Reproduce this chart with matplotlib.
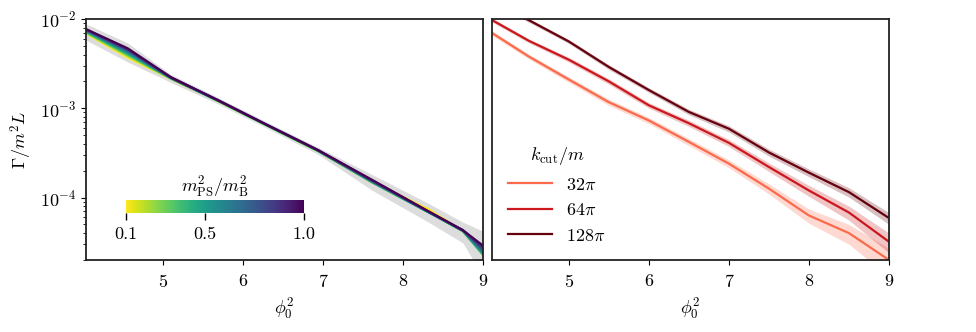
import numpy as np
import matplotlib
matplotlib.use("Agg")
import matplotlib.pyplot as plt
from matplotlib import cm, colors

plt.rcParams.update({
    "font.family": "serif",
    "font.serif": ["cmr10"],
    "mathtext.fontset": "cm",
    "axes.unicode_minus": False,
    "axes.formatter.use_mathtext": True,
    "font.size": 13,
})

# ---------------- left panel data ----------------
x_left = [4.04, 4.56, 5.1, 5.69, 6.3, 6.94, 7.62, 8.32, 8.75, 9.0]
ratios = [0.1, 0.2, 0.3, 0.4, 0.5, 0.6, 0.7, 0.8, 0.9, 1.0]
rate_r01 = [6.9e-3, 3.70e-3, 2.14e-3, 1.21e-3, 6.45e-4, 3.32e-4, 1.48e-4, 7.4e-5, 4.2e-5, 2.4e-5]
rate_r02 = [7.0e-3, 3.85e-3, 2.15e-3, 1.21e-3, 6.45e-4, 3.32e-4, 1.47e-4, 6.9e-5, 4.2e-5, 2.3e-5]
rate_r03 = [7.1e-3, 3.95e-3, 2.16e-3, 1.21e-3, 6.46e-4, 3.33e-4, 1.47e-4, 6.85e-5, 4.2e-5, 2.3e-5]
rate_r04 = [7.2e-3, 4.05e-3, 2.17e-3, 1.22e-3, 6.47e-4, 3.34e-4, 1.48e-4, 6.85e-5, 4.2e-5, 2.3e-5]
rate_r05 = [7.3e-3, 4.15e-3, 2.18e-3, 1.22e-3, 6.48e-4, 3.35e-4, 1.49e-4, 6.85e-5, 4.25e-5, 2.35e-5]
rate_r06 = [7.4e-3, 4.30e-3, 2.19e-3, 1.22e-3, 6.49e-4, 3.36e-4, 1.51e-4, 6.9e-5, 4.25e-5, 2.45e-5]
rate_r07 = [7.5e-3, 4.40e-3, 2.20e-3, 1.22e-3, 6.50e-4, 3.37e-4, 1.52e-4, 6.9e-5, 4.3e-5, 2.55e-5]
rate_r08 = [7.6e-3, 4.50e-3, 2.21e-3, 1.23e-3, 6.51e-4, 3.38e-4, 1.53e-4, 6.95e-5, 4.3e-5, 2.65e-5]
rate_r09 = [7.65e-3, 4.60e-3, 2.22e-3, 1.23e-3, 6.52e-4, 3.39e-4, 1.55e-4, 7.0e-5, 4.3e-5, 2.78e-5]
rate_r10 = [7.7e-3, 4.70e-3, 2.23e-3, 1.23e-3, 6.53e-4, 3.40e-4, 1.57e-4, 7.0e-5, 4.3e-5, 2.9e-5]
band_left_lo = [5.8e-3, 3.3e-3, 1.95e-3, 1.12e-3, 6.0e-4, 3.05e-4, 1.2e-4, 5.3e-5, 3.1e-5, 1.3e-5]
band_left_hi = [8.8e-3, 5.4e-3, 2.40e-3, 1.32e-3, 7.0e-4, 3.65e-4, 1.8e-4, 8.6e-5, 5.3e-5, 4.2e-5]

# ---------------- right panel data ----------------
x_right = [4.0, 4.5, 5.0, 5.5, 6.0, 6.5, 7.0, 7.5, 8.0, 8.5, 9.0]
kcut_labels = [r"$32\pi$", r"$64\pi$", r"$128\pi$"]
rate_32 = [7.35e-3, 3.8e-3, 2.1e-3, 1.17e-3, 7.3e-4, 4.2e-4, 2.4e-4, 1.26e-4, 6.3e-5, 4.0e-5, 2.0e-5]
rate_64 = [1.02e-2, 5.7e-3, 3.5e-3, 2.0e-3, 1.08e-3, 6.8e-4, 4.1e-4, 2.2e-4, 1.2e-4, 6.8e-5, 3.2e-5]
rate_128 = [1.6e-2, 9.7e-3, 5.6e-3, 2.9e-3, 1.6e-3, 9.1e-4, 5.9e-4, 3.2e-4, 1.9e-4, 1.15e-4, 5.9e-5]
rel_err_32 = [0.06, 0.06, 0.07, 0.08, 0.08, 0.09, 0.10, 0.13, 0.18, 0.25, 0.35]
rel_err_64 = [0.05, 0.05, 0.06, 0.07, 0.07, 0.08, 0.09, 0.11, 0.14, 0.18, 0.25]
rel_err_128 = [0.05, 0.05, 0.05, 0.06, 0.06, 0.07, 0.08, 0.09, 0.10, 0.12, 0.15]
kcut_colors = ["#fb6a4a", "#cb181d", "#67000d"]

# ---------------- figure ----------------
fig = plt.figure(figsize=(9.76, 3.32), dpi=100)
axL = fig.add_axes([86/976, 72/332, 397/976, 241/332])
axR = fig.add_axes([492/976, 72/332, 397/976, 241/332], sharey=axL)

left_rates = [rate_r01, rate_r02, rate_r03, rate_r04, rate_r05,
              rate_r06, rate_r07, rate_r08, rate_r09, rate_r10]
cmap = plt.get_cmap("viridis_r")
norm = colors.Normalize(vmin=0.1, vmax=1.0)
axL.fill_between(x_left, band_left_lo, band_left_hi, color="#dcdcdc", lw=0, zorder=1)
for r, vals in zip(ratios, left_rates):
    axL.plot(x_left, vals, color=cmap(norm(r)), lw=1.6, zorder=2)

axL.set_yscale("log")
axL.set_ylim(2e-5, 1e-2)
axL.set_xlim(4.04, 9.0)
axL.set_xticks([5, 6, 7, 8, 9])
axL.set_xlabel(r"$\phi_0^2$", labelpad=5)
axL.set_ylabel(r"$\Gamma/m^2L$", labelpad=4)

cax = axL.inset_axes([0.10, 0.195, 0.45, 0.054])
sm = cm.ScalarMappable(norm=norm, cmap=cmap)
cb = fig.colorbar(sm, cax=cax, orientation="horizontal", ticks=[0.1, 0.5, 1.0])
cb.outline.set_visible(False)
cb.ax.set_xticklabels(["0.1", "0.5", "1.0"])
cb.ax.tick_params(length=5, width=1.0, pad=5)
cb.ax.set_title(r"$m^2_{\rm PS}/m^2_{\rm B}$", fontsize=13, pad=1)

right_rates = [rate_32, rate_64, rate_128]
right_errs = [rel_err_32, rel_err_64, rel_err_128]
for vals, errs, col, lab in zip(right_rates, right_errs, kcut_colors, kcut_labels):
    v = np.array(vals)
    e = np.array(errs)
    axR.fill_between(x_right, v * (1 - e), v * (1 + e), color=col, alpha=0.25, lw=0)
    axR.plot(x_right, vals, color=col, lw=1.6, label=lab)

axR.set_xlim(4.04, 9.0)
axR.set_xticks([5, 6, 7, 8, 9])
axR.set_xlabel(r"$\phi_0^2$", labelpad=5)
axR.tick_params(axis="y", which="both", left=False, labelleft=False)
leg = axR.legend(title=r"$k_{\rm cut}/m$", loc="lower left", frameon=False,
                 handlelength=2.4, fontsize=13, title_fontsize=13,
                 labelspacing=0.55, bbox_to_anchor=(0.0, 0.0))

for ax in (axL, axR):
    ax.tick_params(axis="x", which="major", pad=6)
    for s in ax.spines.values():
        s.set_linewidth(1.3)
        s.set_color("#222222")

fig.savefig("out.png", dpi=100)
